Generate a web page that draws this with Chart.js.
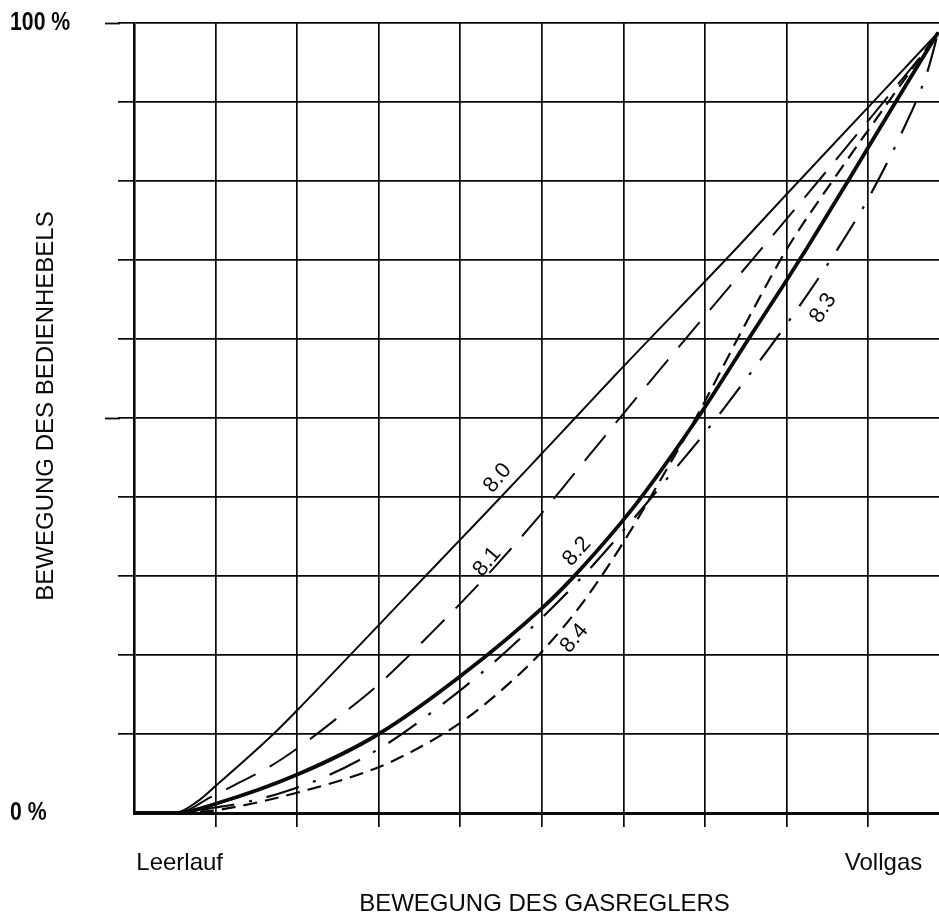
<!DOCTYPE html>
<html><head><meta charset="utf-8">
<script src="https://cdn.jsdelivr.net/npm/chart.js@4.4.0/dist/chart.umd.min.js"></script>
<style>html,body{margin:0;padding:0;background:#fff;overflow:hidden}canvas{display:block}</style>
</head><body>
<canvas id="c" width="939" height="913"></canvas>
<script>
// ---- axis data ----
const xTicks = [0, 1, 2, 3, 4, 5, 6, 7, 8, 9];
const yTicks = [0, 10, 20, 30, 40, 50, 60, 70, 80, 90, 100];
const yMajorTicks = [50, 100];
const yTickLabels = ['0 %', '100 %'];
const yTickLabelValues = [0, 100];
const xEndLabels = ['Leerlauf', 'Vollgas'];
const xEndLabelValues = [0.56, 9.19];
const xTitle = 'BEWEGUNG DES GASREGLERS';
const yTitle = 'BEWEGUNG DES BEDIENHEBELS';

// ---- series (x = Gasregler-Stellung, y = % Bedienhebel) ----
const x80 = [0, 0.5, 0.77, 1.02, 1.71, 2.01, 2.67, 3.26, 4.0, 4.49, 5.0, 5.4, 5.87, 7.37, 7.99, 8.98, 9.86];
const y80 = [0, 0, 1.4, 3.6, 10.0, 13.1, 20.2, 26.6, 34.6, 39.9, 45.5, 49.9, 55.1, 71.3, 78.2, 89.1, 98.8];

const x81 = [0, 0.53, 0.94, 1.30, 1.67, 2.02, 2.49, 2.98, 3.30, 3.57, 4.0, 4.41, 4.98, 5.37, 5.75, 6.14, 7.34, 7.70, 8.14, 8.52, 8.92, 9.30, 9.63, 9.86];
const y81 = [0, 0, 2.0, 3.9, 5.9, 8.3, 12.0, 16.1, 19.2, 22.0, 26.5, 31.0, 37.7, 42.6, 47.4, 52.3, 67.1, 71.5, 76.9, 81.6, 86.6, 91.4, 95.6, 98.8];

const x82 = [0, 0.53, 1.01, 2.01, 3.0, 4.0, 5.01, 5.38, 5.96, 6.23, 6.91, 7.30, 7.54, 8.0, 8.25, 8.76, 9.35, 9.86];
const y82 = [0, 0, 1.2, 4.9, 10.0, 17.3, 26.0, 29.8, 36.6, 40.1, 50.0, 56.2, 60.1, 67.4, 71.5, 80.1, 90.2, 98.8];

const x83 = [0, 0.53, 1.0, 1.34, 1.79, 2.37, 3.08, 3.76, 4.36, 4.96, 5.55, 6.12, 6.59, 6.92, 7.18, 7.43, 7.92, 8.38, 8.81, 9.02, 9.38, 9.72, 9.86];
const y83 = [0, 0, 0.7, 1.3, 2.5, 4.7, 8.6, 13.6, 18.6, 24.3, 30.5, 37.2, 43.0, 47.1, 50.5, 53.9, 60.7, 67.5, 74.4, 78.1, 85.4, 93.6, 98.8];

const x84 = [0, 0.53, 0.97, 2.01, 3.0, 3.5, 4.0, 4.49, 4.98, 5.5, 5.96, 6.48, 6.91, 7.43, 8.0, 8.57, 9.27, 9.86];
const y84 = [0, 0, 0.3, 2.6, 5.8, 8.3, 11.4, 15.4, 20.2, 26.6, 33.6, 42.6, 50.4, 60.6, 71.3, 80.1, 90.3, 98.8];

// ---- curve labels (anchored in data units) ----
const curveNames = ['8.0', '8.1', '8.2', '8.3', '8.4'];
const curveLabelX = [4.46, 4.33, 5.43, 8.45, 5.40];
const curveLabelY = [42.4, 31.8, 33.1, 63.9, 22.1];
const curveLabelAngle = [-50, -50, -48, -57, -50];

const pts = (xs, ys) => xs.map((x, i) => ({x, y: ys[i]}));
const FONT = '"Liberation Sans", Arial, Helvetica, sans-serif';
const INK = '#0a0a0a';

const textPlugin = {
  id: 'texts',
  afterDraw(chart) {
    const ctx = chart.ctx;
    const xs = chart.scales.x, ys = chart.scales.y;
    const ca = chart.chartArea;
    ctx.save();
    // long ticks for 50 % and 100 %
    ctx.strokeStyle = INK; ctx.lineWidth = 1.8;
    yMajorTicks.forEach(v => {
      const py = Math.round(ys.getPixelForValue(v)) + 0.5;
      ctx.beginPath(); ctx.moveTo(ca.left - 29, py); ctx.lineTo(ca.left - 14, py); ctx.stroke();
    });
    ctx.fillStyle = INK;
    // y tick labels
    ctx.font = 'bold 25px ' + FONT;
    ctx.textBaseline = 'middle'; ctx.textAlign = 'left';
    yTickLabels.forEach((t, i) => {
      const py = ys.getPixelForValue(yTickLabelValues[i]);
      ctx.save(); ctx.translate(10, py); ctx.scale(0.85, 1); ctx.fillText(t, 0, 0); ctx.restore();
    });
    // x end labels
    ctx.font = '24px ' + FONT;
    ctx.textAlign = 'center'; ctx.textBaseline = 'alphabetic';
    xEndLabels.forEach((t, i) => ctx.fillText(t, xs.getPixelForValue(xEndLabelValues[i]), ca.bottom + 57));
    // axis titles
    ctx.fillText(xTitle, (ca.left + ca.right) / 2 + 8, ca.bottom + 98);
    ctx.save();
    ctx.translate(46, (ca.top + ca.bottom) / 2 - 12);
    ctx.rotate(-Math.PI / 2);
    ctx.textBaseline = 'middle';
    ctx.fillText(yTitle, 0, 0);
    ctx.restore();
    // curve labels
    ctx.font = '22px ' + FONT;
    ctx.textBaseline = 'middle'; ctx.textAlign = 'center';
    curveNames.forEach((t, i) => {
      ctx.save();
      ctx.translate(xs.getPixelForValue(curveLabelX[i]), ys.getPixelForValue(curveLabelY[i]));
      ctx.rotate(curveLabelAngle[i] * Math.PI / 180);
      ctx.fillText(t, 0, 0);
      ctx.restore();
    });
    ctx.restore();
  }
};

const ds = (label, xs, ys, width, dash) => ({
  label, data: pts(xs, ys), borderColor: INK, borderWidth: width, borderDash: dash,
  borderCapStyle: 'butt', pointRadius: 0, fill: false, cubicInterpolationMode: 'monotone'
});

new Chart(document.getElementById('c'), {
  type: 'line',
  data: {
    datasets: [
      ds('8.0', x80, y80, 2.0, []),
      ds('8.1', x81, y81, 2.0, [33, 16]),
      ds('8.2', x82, y82, 3.8, []),
      ds('8.3', x83, y83, 2.2, [34, 15, 3, 15]),
      ds('8.4', x84, y84, 2.2, [14, 8])
    ]
  },
  options: {
    responsive: false, animation: false, events: [],
    layout: {padding: {left: 118, top: 23, right: 0, bottom: 86}},
    plugins: {legend: {display: false}, tooltip: {enabled: false}},
    scales: {
      x: {
        type: 'linear', min: 0, max: 9.87,
        afterBuildTicks: s => { s.ticks = xTicks.map(v => ({value: v})); },
        ticks: {display: false},
        grid: {
          color: INK, lineWidth: 1.7, drawTicks: true, tickLength: 14,
          tickColor: c => (c.tick && c.tick.value === 0) ? 'rgba(0,0,0,0)' : INK, tickWidth: 1.7
        },
        border: {display: true, color: INK, width: 3}
      },
      y: {
        type: 'linear', min: 0, max: 100,
        afterBuildTicks: s => { s.ticks = yTicks.map(v => ({value: v})); },
        ticks: {display: false},
        grid: {
          color: INK, lineWidth: 1.7, drawTicks: true, tickLength: 16,
          tickColor: c => (c.tick && c.tick.value === 0) ? 'rgba(0,0,0,0)' : INK, tickWidth: 1.7
        },
        border: {display: true, color: INK, width: 2.6}
      }
    }
  },
  plugins: [textPlugin]
});
</script>
</body></html>
